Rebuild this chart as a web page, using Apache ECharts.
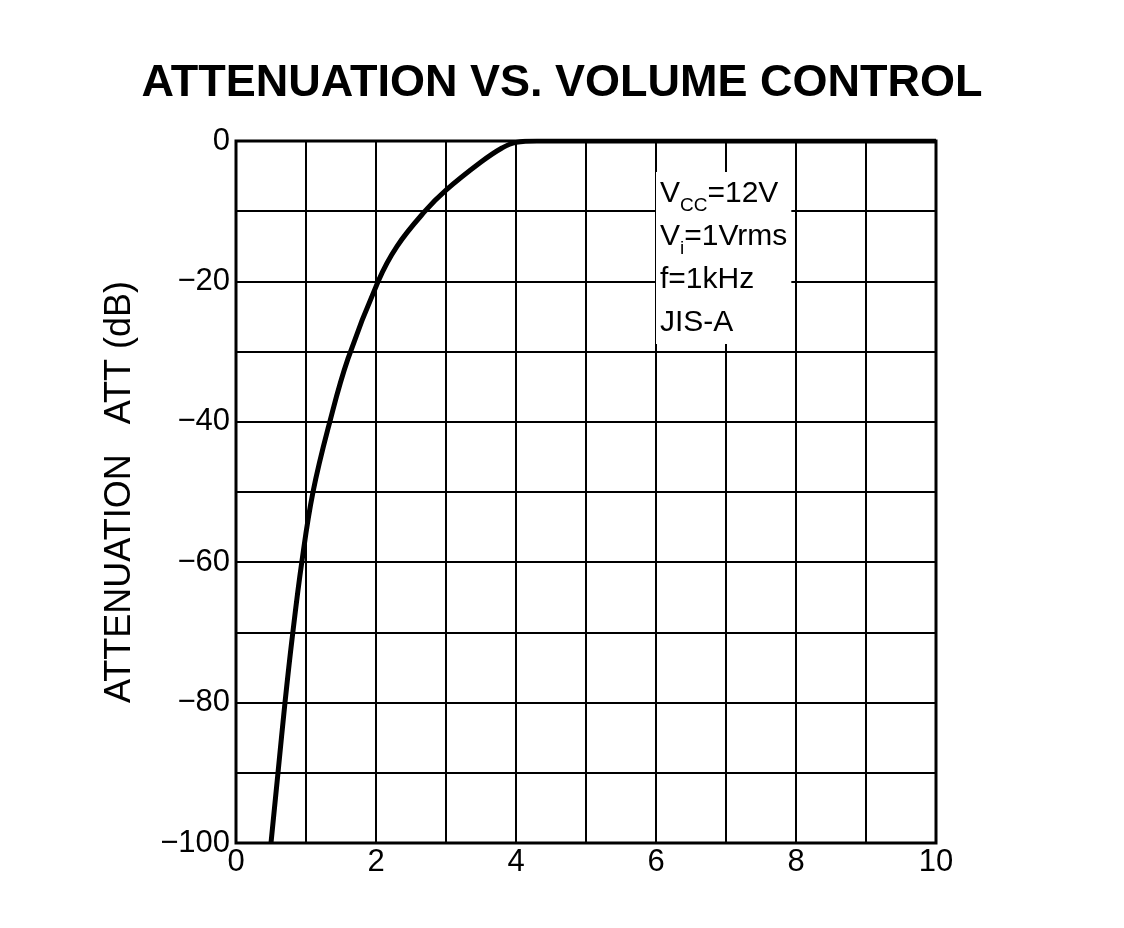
<!DOCTYPE html>
<html><head><meta charset="utf-8">
<script src="https://cdn.jsdelivr.net/npm/echarts@6/dist/echarts.min.js"></script>
<style>html,body{margin:0;background:#fff}#c{width:1124px;height:928px}</style>
</head><body><div id="c"></div>
<script>
const volume = [0.5, 0.6, 0.7, 0.8, 0.94, 1.1, 1.34, 1.6, 2.03, 2.3, 2.7, 3.0, 3.5, 3.8, 4.0, 4.3, 10];
const att = [-100, -90, -80, -71, -60, -50, -40, -31, -20, -15, -10, -7, -3, -1, -0.2, 0, 0];
const xTicks = [0, 2, 4, 6, 8, 10];
const yTicks = [0, -20, -40, -60, -80, -100];
const chart = echarts.init(document.getElementById('c'));
const F = 'Liberation Sans, Arial, sans-serif';
chart.setOption({
  animation: false,
  title: {text: 'ATTENUATION VS. VOLUME CONTROL', left: 'center', top: 56,
    textStyle: {fontFamily: F, fontWeight: 'bold', fontSize: 45, color: '#000'}},
  grid: {left: 236, top: 141, width: 700, height: 702, show: true, borderColor: '#000', borderWidth: 3},
  xAxis: {type: 'value', min: 0, max: 10, interval: 1,
    axisLine: {show: false}, axisTick: {show: false},
    splitLine: {lineStyle: {color: '#000', width: 2}},
    axisLabel: {fontFamily: F, fontSize: 31, color: '#000', margin: 4,
      formatter: v => xTicks.includes(v) ? String(v) : ''}},
  yAxis: {type: 'value', min: -100, max: 0, interval: 10,
    name: 'ATTENUATION   ATT (dB)', nameLocation: 'middle', nameGap: 98,
    nameTextStyle: {fontFamily: F, fontSize: 36, color: '#000'},
    axisLine: {show: false}, axisTick: {show: false},
    splitLine: {lineStyle: {color: '#000', width: 2}},
    axisLabel: {fontFamily: F, fontSize: 31, color: '#000', margin: 6,
      formatter: v => yTicks.includes(v) ? (v < 0 ? '\u2212' + (-v) : String(v)) : ''}},
  series: [{type: 'line', smooth: 0.4, symbol: 'none', data: volume.map((v, i) => [v, att[i]]),
    lineStyle: {color: '#000', width: 5}}],
  graphic: [{type: 'text', left: 656, top: 172, z: 10, style: {
    rich: {n: {fontFamily: F, fontSize: 30, fill: '#000', lineHeight: 43},
           s: {fontFamily: F, fontSize: 19, fill: '#000', verticalAlign: 'bottom', lineHeight: 43}},
    text: '{n|V}{s|CC}{n|=12V}\n{n|V}{s|i}{n|=1Vrms}\n{n|f=1kHz}\n{n|JIS-A}',
    backgroundColor: '#fff', padding: [0, 4]}}]
});
</script></body></html>
